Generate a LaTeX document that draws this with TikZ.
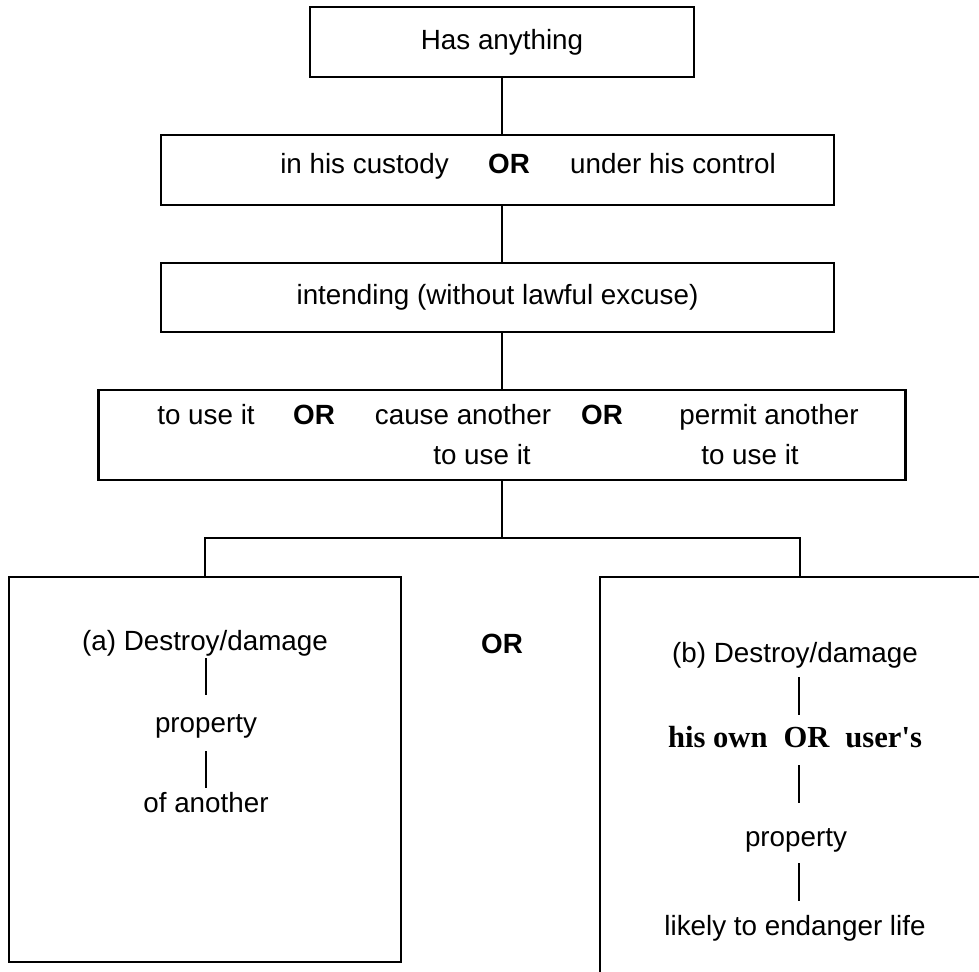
\documentclass[tikz,border=0pt]{standalone}
\usepackage{fontspec}
\setmainfont{Liberation Sans}
\newfontfamily\tnrb{Liberation Serif}
\begin{document}
\begin{tikzpicture}[x=1pt,y=-1pt,line width=2.5pt,
  box/.style={draw=black,rectangle,inner sep=0pt},
  txt/.style={inner sep=0pt,font=\fontsize{27.8}{33}\selectfont,text height=19.9pt,text depth=5.8pt},
  orb/.style={txt,font=\fontsize{27.8}{33}\selectfont\bfseries},
  serb/.style={inner sep=0pt,font=\fontsize{30.6}{36}\selectfont\tnrb\bfseries,text height=20.5pt,text depth=6pt}]
\useasboundingbox (0,0) rectangle (979,971);
\clip (0,0) rectangle (979,971);
% top boxes
\node[box,txt,minimum width=384,minimum height=70] (has) at (502,42) {Has anything};
\node[box,minimum width=673,minimum height=70] (cust) at (497.5,170) {};
\node[txt] (c1) at (364.5,166) {in his custody};
\node[orb] (c2) at (509,166) {OR};
\node[txt] (c3) at (673,166) {under his control};
\node[box,txt,minimum width=673,minimum height=69] (int) at (497.5,297.5) {intending (without lawful excuse)};
\node[box,minimum width=807,minimum height=90] (use) at (502,435) {};
\node[txt] (u1) at (206,417) {to use it};
\node[orb] (u2) at (314,417) {OR};
\node[txt] (u3) at (463,417) {cause another};
\node[orb] (u4) at (602,417) {OR};
\node[txt] (u5) at (769,417) {permit another};
\node[txt] (u6) at (482,457) {to use it};
\node[txt] (u7) at (750,457) {to use it};
% connectors
\draw (has.south) -- (has.south |- cust.north);
\draw (has.south |- cust.south) -- (has.south |- int.north);
\draw (has.south |- int.south) -- (has.south |- use.north);
% lower boxes
\coordinate (br) at (502,538);
\node[box,minimum width=392,minimum height=385] (boxa) at (205,769.5) {};
\node[box,minimum width=400,minimum height=420] (boxb) at (800,787) {};
\draw (use.south) -- (use.south |- br);
\draw (boxa.north) -- (boxa.north |- br) -- (boxb.north |- br) -- (boxb.north);
\node[orb] (mor) at (502,646) {OR};
% box a contents
\node[txt] (a1) at (205,643) {(a) Destroy/damage};
\node[txt] (a2) at (206,725) {property};
\node[txt] (a3) at (206,805) {of another};
\draw ([xshift=1pt,yshift=-15pt]a1.center) -- ([yshift=30pt]a2.center);
\draw ([yshift=-26pt]a2.center) -- ([yshift=17pt]a3.center);
% box b contents
\node[txt] (b1) at (795,655) {(b) Destroy/damage};
\node[serb] (b2) at (795,740) {his own\hspace{16pt}OR\hspace{16pt}user\textquotesingle s};
\node[txt] (b3) at (796,839) {property};
\node[txt] (b4) at (795,928) {likely to endanger life};
\draw ([xshift=4pt,yshift=-22pt]b1.center) -- ([xshift=4pt,yshift=25pt]b2.center);
\draw ([xshift=4pt,yshift=-25pt]b2.center) -- ([xshift=3pt,yshift=36pt]b3.center);
\draw ([xshift=3pt,yshift=-24pt]b3.center) -- ([xshift=4pt,yshift=27pt]b4.center);
\end{tikzpicture}
\end{document}
